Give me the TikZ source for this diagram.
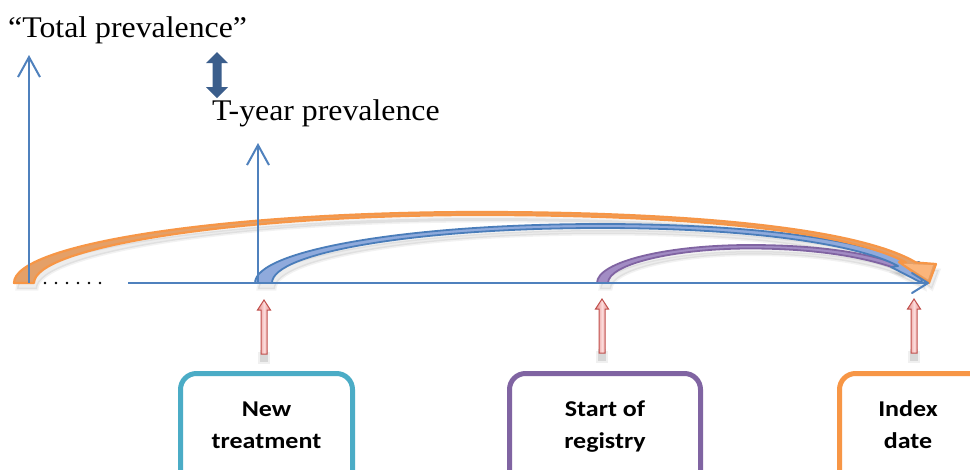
\documentclass[tikz,border=0pt]{standalone}
\usepackage{fontspec}
\setmainfont{Liberation Serif}
\newfontfamily\headfont[FakeStretch=1.06]{Liberation Serif}
\newfontfamily\boxfont[FakeStretch=1.15]{Carlito}
\usetikzlibrary{arrows.meta}

\definecolor{axisblue}{HTML}{4F81BD}
\definecolor{darkblue}{HTML}{3B5E8C}
\definecolor{orangeline}{HTML}{F79646}
\definecolor{orangefill}{HTML}{E4A068}
\definecolor{orangehead}{HTML}{FBB57B}
\definecolor{blueline}{HTML}{4A7DBA}
\definecolor{bluefill}{HTML}{8FAADC}
\definecolor{purpleline}{HTML}{8064A2}
\definecolor{purplefill}{HTML}{A28CC4}
\definecolor{redline}{HTML}{C0504D}
\definecolor{redfill}{HTML}{E58A87}
\definecolor{redlight}{HTML}{FBDADA}
\definecolor{cyanbox}{HTML}{4BACC6}

\tikzset{
  % outlines of the three curved period arrows
  orangepath/.style={insert path={
    (14,283) .. controls (14,244) and (223,212) .. (480,212)
    .. controls (690,212) and (858,228) .. (916,262.5)
    -- (936,264) -- (929,283) -- (899,262) -- (906,262.5)
    .. controls (848,231) and (690,215) .. (480,215)
    .. controls (235,215) and (34,247) .. (34,283) -- cycle}},
  bluepath/.style={insert path={
    (255,283) .. controls (255,250) and (410,224) .. (600,224)
    .. controls (765,224) and (872,242) .. (912,263.5)
    -- (919,262) -- (922,283) -- (891,267) -- (898,266)
    .. controls (860,245) and (755,228) .. (600,228)
    .. controls (420,228) and (272,252) .. (272,283) -- cycle}},
  purplepath/.style={insert path={
    (597,283) .. controls (597,262) and (666,245) .. (750,245)
    .. controls (830,245) and (882,256) .. (906,268) -- (900,270)
    .. controls (872,259) and (822,248.5) .. (750,248.5)
    .. controls (675,248.5) and (608,264) .. (608,283) -- cycle}},
  softshadow/.style={fill=black, fill opacity=0.07, draw=black, draw opacity=0.05, line width=3pt},
  vbar/.style={draw=axisblue, line width=2.2pt, -{Straight Barb[length=20pt,width=22pt,line width=2pt]}},
  box/.style={draw=#1, line width=5pt, rounded corners=16pt, minimum height=130pt, inner sep=0pt},
  lbl/.style={font=\boxfont\bfseries\fontsize{22.6}{32}\selectfont, align=center, anchor=base, inner sep=0pt},
  upmark/.pic={
    \fill[black, opacity=0.10] (-4,50) rectangle (4,62);
    \fill[black, opacity=0.06] (-6,52) rectangle (6,64);
    \path[draw=redline, line width=1pt, left color=redfill, right color=redfill, middle color=redlight]
      (0,0) -- (6.5,10) -- (3,10) -- (3,54) -- (-3,54) -- (-3,10) -- (-6.5,10) -- cycle;
  }
}

\begin{document}
\begin{tikzpicture}[x=1pt,y=-1pt]
\useasboundingbox (0,0) rectangle (970,469);
\clip (0,0) rectangle (970,469);
\fill[white] (0,0) rectangle (970,469);

% headings
\node[anchor=base west, inner sep=0pt, font=\headfont\fontsize{30}{36}\selectfont] (total) at (8,37) {“Total prevalence”};
\node[anchor=base west, inner sep=0pt, font=\headfont\fontsize{30}{36}\selectfont] (tyear) at (212,120) {T-year prevalence};

% double-headed arrow between the two headings
\fill[darkblue] (217,52) -- (228,63) -- (221.5,63) -- (221.5,87) -- (228,87) -- (217,98)
  -- (206,87) -- (212.5,87) -- (212.5,63) -- (206,63) -- cycle;

% time points on the axis
\coordinate (origin) at (29,283);
\coordinate (totaltip) at (29,55);
\coordinate (newtx) at (258,283);
\coordinate (tyeartip) at (258,143);
\coordinate (axisstart) at (128,283);
\coordinate (axisend) at (928,283);

% shadows under the period arrows
\path[softshadow, shift={(3,6)}] [purplepath];
\path[softshadow, shift={(3,6)}] [bluepath];
\path[softshadow, shift={(3,6)}] [orangepath];

% period arrows
\path[draw=purpleline, fill=purplefill, line width=1.8pt, line join=round] [purplepath];
\path[draw=blueline, fill=bluefill, line width=1.8pt, line join=round] [bluepath];
\path[draw=orangeline, fill=orangefill, line width=2.2pt, line join=round] [orangepath];
\fill[orangehead] (903.5,263.8) -- (933,265.2) -- (928,279.5) -- cycle;

% time axis
\draw[axisblue, line width=2pt] (axisstart) -- (axisend);
\draw[axisblue, line width=2pt, line cap=round, line join=round] (912,293) -- (axisend) -- (912,273);
\foreach \x in {45,56,67,78,89,100} \fill[black] (\x,283) circle (1.3pt);

% vertical markers
\draw[vbar] (origin) -- (totaltip);
\draw[vbar] (newtx) -- (tyeartip);

% event markers
\pic at (264,300) {upmark};
\pic at (602,299) {upmark};
\pic at (914,299) {upmark};

% event boxes
\node[box=cyanbox, minimum width=172pt] (bnew) at (266.5,438.5) {};
\node[box=purpleline, minimum width=191pt] (breg) at (605,438.5) {};
\node[box=orangeline, minimum width=172pt] (bidx) at (925.5,438.5) {};
\node[lbl] (lnew) at (266.5,448) {New\\treatment};
\node[lbl] (lreg) at (605,448) {Start of\\registry};
\node[lbl] (lidx) at (908,448) {Index\\date};
\end{tikzpicture}
\end{document}
